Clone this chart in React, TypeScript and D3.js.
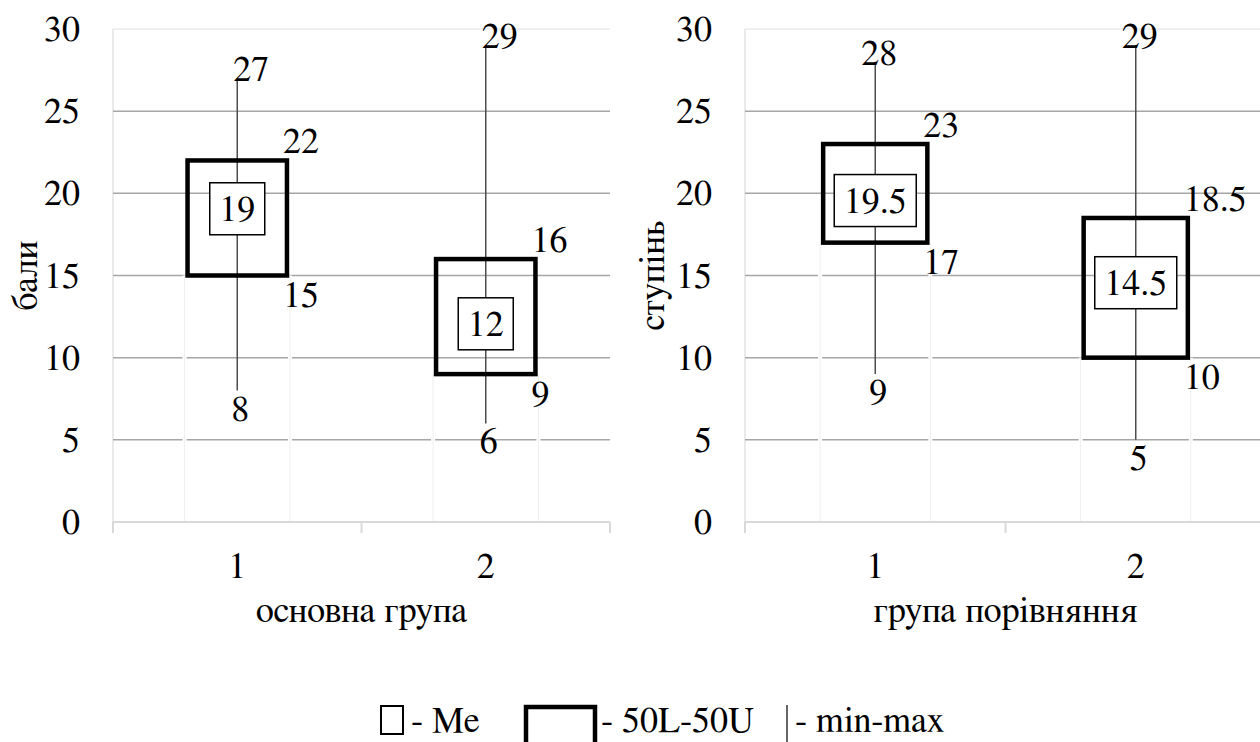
import React from 'react';
import * as d3 from 'd3';

const categories = ['1', '2'];
const yTicks = [0, 5, 10, 15, 20, 25, 30];

const mainMin = [8, 6];
const mainQ1 = [15, 9];
const mainMedian = [19, 12];
const mainQ3 = [22, 16];
const mainMax = [27, 29];

const compMin = [9, 5];
const compQ1 = [17, 10];
const compMedian = [19.5, 14.5];
const compQ3 = [23, 18.5];
const compMax = [28, 29];

const yTitles = ['бали', 'ступінь'];
const xTitles = ['основна група', 'група порівняння'];
const legendLabels = ['- Me', '- 50L-50U', '- min-max'];

const FS = 36;
const ts = { fontFamily: "'FreeSerif', 'Liberation Serif', serif", fontSize: FS };

type PanelProps = {
  x0: number; x1: number; yTitleX: number; yTitle: string; xTitle: string;
  min: number[]; q1: number[]; med: number[]; q3: number[]; max: number[];
  maxDx: number;
};

const yScale = d3.scaleLinear().domain([0, 30]).range([522, 29]);

function textWidth(s: string) {
  let w = 0;
  for (const ch of s) w += ch === '.' ? 0.25 : 0.5;
  return w * FS;
}

function Panel(p: PanelProps) {
  const x = d3.scaleBand<string>().domain(categories).range([p.x0, p.x1]).padding(0);
  const bw = x.bandwidth();
  const y = yScale;
  const boxHalf = bw * 0.2;
  const gridColor = '#a6a6a6';
  return (
    <g>
      <line x1={p.x0} x2={p.x1} y1={y(30)} y2={y(30)} stroke="#ebebeb" strokeWidth={1.5} />
      <line x1={p.x0} x2={p.x0} y1={y(30)} y2={y(0) + 11} stroke="#e3e3e3" strokeWidth={1.5} />
      {yTicks.filter(t => t > 0 && t < 30).map(t => (
        <line key={t} x1={p.x0} x2={p.x1} y1={y(t)} y2={y(t)} stroke={gridColor} strokeWidth={1.5} />
      ))}
      {categories.map((c, i) => {
        const cx = x(c)! + bw / 2;
        const edges = [cx - boxHalf - 3, cx + boxHalf + 3];
        return (
          <g key={'bar' + c}>
            {edges.map((ex, j) => (
              <g key={j}>
                <line x1={ex} x2={ex} y1={y(0)} y2={y(p.q1[i])} stroke="#ffffff" strokeWidth={4} />
                <line x1={ex} x2={ex} y1={y(0)} y2={y(p.q1[i])} stroke="#efefef" strokeWidth={1} />
              </g>
            ))}
          </g>
        );
      })}
      <line x1={p.x0} x2={p.x1} y1={y(0)} y2={y(0)} stroke="#d9d9d9" strokeWidth={2} />
      {[p.x0, ...categories.map(c => x(c)! + bw)].map((tx, i) => (
        <line key={'tk' + i} x1={tx} x2={tx} y1={y(0)} y2={y(0) + 11} stroke="#d9d9d9" strokeWidth={2} />
      ))}
      {yTicks.map(t => (
        <text key={'yl' + t} style={ts} x={p.x0 - 33} y={y(t) + 12} textAnchor="end">{t}</text>
      ))}
      {categories.map(c => (
        <text key={'xl' + c} style={ts} x={x(c)! + bw / 2} y={578} textAnchor="middle">{c}</text>
      ))}
      <text style={ts} transform={`translate(${p.yTitleX},${(y(0) + y(30)) / 2}) rotate(-90)`} textAnchor="middle">{p.yTitle}</text>
      <text style={ts} x={(p.x0 + p.x1) / 2} y={622} textAnchor="middle">{p.xTitle}</text>
      {categories.map((c, i) => {
        const cx = x(c)! + bw / 2;
        const medStr = String(p.med[i]);
        const tw = textWidth(medStr);
        const mw = tw + 19;
        const mh = 52;
        const my = y(p.med[i]) - 1;
        return (
          <g key={'m' + c}>
            <line x1={cx} x2={cx} y1={y(p.min[i])} y2={y(p.max[i])} stroke="#4d4d4d" strokeWidth={1.5} />
            <rect x={cx - boxHalf} y={y(p.q3[i])} width={boxHalf * 2} height={y(p.q1[i]) - y(p.q3[i])}
              fill="none" stroke="#000" strokeWidth={4.5} />
            <rect x={cx - mw / 2} y={my - mh / 2} width={mw} height={mh} fill="#fff" stroke="#000" strokeWidth={1.5} />
            <text style={ts} x={cx} y={my + 12} textAnchor="middle">{medStr}</text>
            <text style={ts} x={cx + p.maxDx} y={y(p.max[i]) + 3} textAnchor="middle">{p.max[i]}</text>
            <text style={ts} x={cx + boxHalf - 4} y={y(p.q3[i]) - 7}>{p.q3[i]}</text>
            <text style={ts} x={cx + boxHalf - 4} y={y(p.q1[i]) + 31.5}>{p.q1[i]}</text>
            <text style={ts} x={cx + 3} y={y(p.min[i]) + 30} textAnchor="middle">{p.min[i]}</text>
          </g>
        );
      })}
    </g>
  );
}

export default function App() {
  return (
    <svg width={1260} height={742} style={{ position: 'absolute', left: 0, top: 0 }}>
      <Panel x0={113} x1={610} yTitleX={37} yTitle={yTitles[0]} xTitle={xTitles[0]}
        min={mainMin} q1={mainQ1} med={mainMedian} q3={mainQ3} max={mainMax} maxDx={14} />
      <Panel x0={745} x1={1266} yTitleX={664} yTitle={yTitles[1]} xTitle={xTitles[1]}
        min={compMin} q1={compQ1} med={compMedian} q3={compQ3} max={compMax} maxDx={4} />
      <rect x={381} y={706} width={22} height={28} fill="none" stroke="#000" strokeWidth={2} />
      <text style={ts} x={411} y={732}>{legendLabels[0]}</text>
      <rect x={526} y={707} width={69} height={45} fill="none" stroke="#000" strokeWidth={4.5} />
      <text style={ts} x={601} y={732}>{legendLabels[1]}</text>
      <line x1={787} x2={787} y1={705} y2={745} stroke="#333" strokeWidth={1.5} />
      <text style={ts} x={795} y={732}>{legendLabels[2]}</text>
    </svg>
  );
}
